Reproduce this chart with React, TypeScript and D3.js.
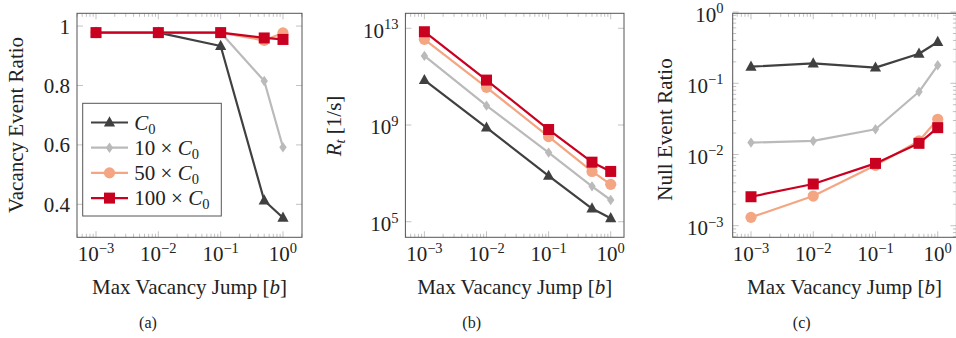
import React from 'react';
import * as d3 from 'd3';

// ---- data ----
const jumps = [0.001, 0.01, 0.1, 0.5, 1];
const seriesLabels = ['C0', '10 × C0', '50 × C0', '100 × C0'];

// (a) vacancy event ratio
const ratioC0 = [0.978, 0.978, 0.933, 0.413, 0.355];
const ratio10 = [0.978, 0.978, 0.978, 0.815, 0.592];
const ratio50 = [0.978, 0.978, 0.978, 0.952, 0.977];
const ratio100 = [0.978, 0.978, 0.978, 0.96, 0.955];

// (b) total rate R_t [1/s]
const rateC0 = [7.2e10, 7.8e8, 7.9e6, 3.5e5, 1.4e5];
const rate10 = [7.2e11, 6.3e9, 7.2e7, 2.9e6, 7.9e5];
const rate50 = [3.5e12, 3.6e10, 3.3e8, 1.2e7, 3.5e6];
const rate100 = [7.2e12, 7.2e10, 6.5e8, 2.9e7, 1.2e7];

// (c) null event ratio
const nullC0 = [0.171, 0.19, 0.166, 0.26, 0.38];
const null10 = [0.0147, 0.0155, 0.0226, 0.076, 0.179];
const null50 = [0.00131, 0.00261, 0.00705, 0.0155, 0.0312];
const null100 = [0.00255, 0.00385, 0.0075, 0.01435, 0.0238];

// ticks
const xTickExps = [-3, -2, -1, 0];
const ratioTicks = [0.4, 0.6, 0.8, 1];
const ratioTickLabels = ['0.4', '0.6', '0.8', '1'];
const rateTickExps = [5, 9, 13];
const nullTickExps = [-3, -2, -1, 0];

const COLORS = ['#404040', '#bababa', '#f4a582', '#ca0020'];
const MARKERS = ['triangle', 'diamond', 'circle', 'square'];
const FONT = "'Liberation Serif', 'Times New Roman', serif";
const FRAME = '#555555';
const TICK = '#b3b3b3';

function Marker({ type, x, y, color }: { type: string; x: number; y: number; color: string }) {
  if (type === 'triangle')
    return <path d={`M${x},${y - 6.2}L${x + 5.6},${y + 4}L${x - 5.6},${y + 4}Z`} fill={color} />;
  if (type === 'diamond')
    return <path d={`M${x},${y - 5.2}L${x + 3.7},${y}L${x},${y + 5.2}L${x - 3.7},${y}Z`} fill={color} />;
  if (type === 'circle') return <circle cx={x} cy={y} r={5.6} fill={color} />;
  return <rect x={x - 5.5} y={y - 5.5} width={11} height={11} fill={color} />;
}

function expText(e: number) {
  return e < 0 ? '−' + -e : String(e);
}

function Pow({ x, y, e, anchor }: { x: number; y: number; e: number; anchor: string }) {
  return (
    <text x={x} y={y} textAnchor={anchor} fontSize={21} fill="#222">
      10
      <tspan dy={-8.5} fontSize={14.5}>
        {expText(e)}
      </tspan>
    </text>
  );
}

type PanelProps = {
  left: number;
  right: number;
  top: number;
  bottom: number;
  xlo: number;
  xhi: number;
  y: (v: number) => number;
  series: number[][];
  yMajor: number[];
  yMinor: number[];
  yLabel: (v: number, i: number, py: number) => React.ReactNode;
  yTitle: React.ReactNode;
  caption: string;
  captionX: number;
  children?: React.ReactNode;
};

function Panel(p: PanelProps) {
  const x = d3.scaleLog().domain([10 ** p.xlo, 10 ** p.xhi]).range([p.left, p.right]);
  const xMajor = xTickExps.map((e) => 10 ** e);
  const xMinor: number[] = [];
  for (let e = -4; e <= 0; e++)
    for (let m = 2; m <= 9; m++) {
      const v = m * 10 ** e;
      if (v > 10 ** p.xlo && v < 10 ** p.xhi) xMinor.push(v);
    }
  const line = d3
    .line<number>()
    .x((_, i) => x(jumps[i]))
    .y((d) => p.y(d));
  const MAJ = 6;
  const MIN = 3.5;
  return (
    <g>
      {/* x ticks */}
      {xMinor.map((v, i) => (
        <g key={'xm' + i} stroke={TICK} strokeWidth={0.8}>
          <line x1={x(v)} x2={x(v)} y1={p.bottom} y2={p.bottom - MIN} />
          <line x1={x(v)} x2={x(v)} y1={p.top} y2={p.top + MIN} />
        </g>
      ))}
      {xMajor.map((v, i) => (
        <g key={'xM' + i} stroke={TICK} strokeWidth={0.8}>
          <line x1={x(v)} x2={x(v)} y1={p.bottom} y2={p.bottom - MAJ} />
          <line x1={x(v)} x2={x(v)} y1={p.top} y2={p.top + MAJ} />
        </g>
      ))}
      {/* y ticks */}
      {p.yMinor.map((v, i) => (
        <g key={'ym' + i} stroke={TICK} strokeWidth={0.8}>
          <line x1={p.left} x2={p.left + MIN} y1={p.y(v)} y2={p.y(v)} />
          <line x1={p.right} x2={p.right - MIN} y1={p.y(v)} y2={p.y(v)} />
        </g>
      ))}
      {p.yMajor.map((v, i) => (
        <g key={'yM' + i} stroke={TICK} strokeWidth={0.8}>
          <line x1={p.left} x2={p.left + MAJ} y1={p.y(v)} y2={p.y(v)} />
          <line x1={p.right} x2={p.right - MAJ} y1={p.y(v)} y2={p.y(v)} />
        </g>
      ))}
      {/* series */}
      {p.series.map((s, si) => (
        <g key={'s' + si}>
          <path d={line(s) || ''} fill="none" stroke={COLORS[si]} strokeWidth={2.2} strokeLinejoin="round" />
          {s.map((v, i) => (
            <Marker key={i} type={MARKERS[si]} x={x(jumps[i])} y={p.y(v)} color={COLORS[si]} />
          ))}
        </g>
      ))}
      {/* frame */}
      <rect
        x={p.left}
        y={p.top}
        width={p.right - p.left}
        height={p.bottom - p.top}
        fill="none"
        stroke={FRAME}
        strokeWidth={1}
      />
      {/* labels */}
      {xTickExps.map((e) => (
        <Pow key={'xl' + e} x={x(10 ** e)} y={p.bottom + 24} e={e} anchor="middle" />
      ))}
      {p.yMajor.map((v, i) => p.yLabel(v, i, p.y(v)))}
      <text x={(p.left + p.right) / 2} y={294} textAnchor="middle" fontSize={21} fill="#222">
        Max Vacancy Jump [<tspan fontStyle="italic">b</tspan>]
      </text>
      {p.yTitle}
      <text x={p.captionX} y={328} textAnchor="middle" fontSize={16} fill="#222">
        {p.caption}
      </text>
      {p.children}
    </g>
  );
}

function LegendLabel({ x, y, label }: { x: number; y: number; label: string }) {
  const prefix = label.replace('C0', '');
  return (
    <text x={x} y={y} fontSize={21} fill="#222">
      {prefix}
      <tspan fontStyle="italic">C</tspan>
      <tspan fontSize={14.5} dy={4}>
        0
      </tspan>
    </text>
  );
}

export default function App() {
  const TOP = 13.3;
  const BOTTOM = 237.3;

  const yA = d3.scaleLinear().domain([0.289, 1.043]).range([BOTTOM, TOP]);
  const yB = d3.scaleLog().domain([10 ** 4.355, 10 ** 13.62]).range([BOTTOM, TOP]);
  const yC = d3.scaleLog().domain([10 ** -3.163, 10 ** -0.017]).range([BOTTOM, TOP]);

  const nullMinor: number[] = [];
  for (let e = -4; e <= 0; e++)
    for (let m = 2; m <= 9; m++) {
      const v = m * 10 ** e;
      if (v > 10 ** -3.163 && v < 10 ** -0.017) nullMinor.push(v);
    }

  const legendRows = [122.5, 147.7, 172.9, 198.1];

  return (
    <svg
      width={956}
      height={338}
      style={{ position: 'absolute', left: 0, top: 0, background: '#fff' }}
      fontFamily={FONT}
    >
      <rect x={0} y={0} width={956} height={338} fill="#fff" />
      {/* (a) */}
      <Panel
        left={77}
        right={302}
        top={TOP}
        bottom={BOTTOM}
        xlo={-3.305}
        xhi={0.305}
        y={yA}
        series={[ratioC0, ratio10, ratio50, ratio100]}
        yMajor={ratioTicks}
        yMinor={[]}
        yLabel={(v, i, py) => (
          <text key={'yl' + i} x={70} y={py + 7.5} textAnchor="end" fontSize={21} fill="#222">
            {ratioTickLabels[i]}
          </text>
        )}
        yTitle={
          <text transform="translate(22.5,125) rotate(-90)" textAnchor="middle" fontSize={21} fill="#222">
            Vacancy Event Ratio
          </text>
        }
        caption="(a)"
        captionX={148}
      >
        <g>
          <rect x={82.7} y={103.3} width={138.6} height={112.7} fill="#fff" stroke={FRAME} strokeWidth={1} />
          {seriesLabels.map((lab, i) => (
            <g key={lab}>
              <line x1={91} x2={128} y1={legendRows[i]} y2={legendRows[i]} stroke={COLORS[i]} strokeWidth={2.2} />
              <Marker type={MARKERS[i]} x={109.5} y={legendRows[i]} color={COLORS[i]} />
              <LegendLabel x={134.3} y={legendRows[i] + 7} label={lab} />
            </g>
          ))}
        </g>
      </Panel>
      {/* (b) */}
      <Panel
        left={405.4}
        right={624}
        top={TOP}
        bottom={BOTTOM}
        xlo={-3.306}
        xhi={0.214}
        y={yB}
        series={[rateC0, rate10, rate50, rate100]}
        yMajor={rateTickExps.map((e) => 10 ** e)}
        yMinor={[]}
        yLabel={(v, i, py) => <Pow key={'yl' + i} x={398.5} y={py + 9.5} e={rateTickExps[i]} anchor="end" />}
        yTitle={
          <text transform="translate(341,126) rotate(-90)" textAnchor="middle" fontSize={21} fill="#222">
            <tspan fontStyle="italic">R</tspan>
            <tspan fontStyle="italic" fontSize={14.5} dy={4}>
              t
            </tspan>
            <tspan dy={-4}> [1/s]</tspan>
          </text>
        }
        caption="(b)"
        captionX={471.7}
      />
      {/* (c) */}
      <Panel
        left={732.7}
        right={956.4}
        top={TOP}
        bottom={BOTTOM}
        xlo={-3.294}
        xhi={0.3}
        y={yC}
        series={[nullC0, null10, null50, null100]}
        yMajor={nullTickExps.map((e) => 10 ** e)}
        yMinor={nullMinor}
        yLabel={(v, i, py) => <Pow key={'yl' + i} x={723.5} y={py + 9.5} e={nullTickExps[i]} anchor="end" />}
        yTitle={
          <text transform="translate(672,129.5) rotate(-90)" textAnchor="middle" fontSize={21} fill="#222">
            Null Event Ratio
          </text>
        }
        caption="(c)"
        captionX={801.7}
      />
    </svg>
  );
}
